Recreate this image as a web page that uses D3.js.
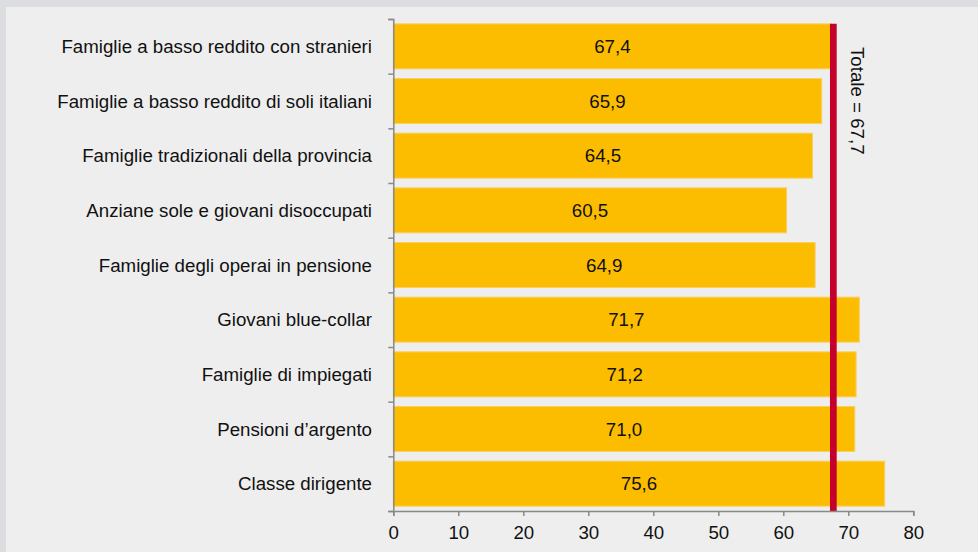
<!DOCTYPE html>
<html>
<head>
<meta charset="utf-8">
<script src="https://cdn.jsdelivr.net/npm/d3@7"></script>
<style>
  html, body { margin: 0; padding: 0; background: #dcdde0; }
  svg { display: block; font-family: "Liberation Sans", Arial, sans-serif; }
</style>
</head>
<body>
<div id="chart"></div>
<script>
var categories = [
    "Famiglie a basso reddito con stranieri",
    "Famiglie a basso reddito di soli italiani",
    "Famiglie tradizionali della provincia",
    "Anziane sole e giovani disoccupati",
    "Famiglie degli operai in pensione",
    "Giovani blue-collar",
    "Famiglie di impiegati",
    "Pensioni d\u2019argento",
    "Classe dirigente"
];
var values = [67.4, 65.9, 64.5, 60.5, 64.9, 71.7, 71.2, 71.0, 75.6];
var totale = 67.7;
var xTicks = [0, 10, 20, 30, 40, 50, 60, 70, 80];

var W = 978, H = 552;
var fs = "18.7px";
var svg = d3.select("#chart")
    .append("svg")
    .attr("width", W)
    .attr("height", H);

// grey frame + panel
svg.append("rect").attr("width", W).attr("height", H).attr("fill", "#dcdde0");
svg.append("rect").attr("x", 6).attr("y", 7).attr("width", W - 6).attr("height", H - 7).attr("fill", "#eeeeee");

var x = d3.scaleLinear()
    .domain([0, 80])
    .range([393.3, 913.3]);

var y = d3.scaleBand()
    .domain(categories)
    .range([19, 511])
    .paddingInner(0.177)
    .paddingOuter(0.0885);

var yLin = d3.scaleLinear()
    .domain([0, categories.length])
    .range([19, 511]);

var fmt = function (v) { return v.toFixed(1).replace(".", ","); };

// bars
svg.selectAll("rect.bar")
    .data(values)
    .enter()
    .append("rect")
    .attr("class", "bar")
    .attr("x", x(0))
    .attr("y", function (d, i) { return y(categories[i]); })
    .attr("width", function (d) { return x(d) - x(0); })
    .attr("height", y.bandwidth())
    .attr("fill", "#fcbd00")
    .attr("stroke", "#f9cf63")
    .attr("stroke-width", 1);

// value labels
svg.selectAll("text.val")
    .data(values)
    .enter()
    .append("text")
    .attr("class", "val")
    .attr("x", function (d) { return (x(0) + x(d)) / 2; })
    .attr("y", function (d, i) { return y(categories[i]) + y.bandwidth() / 2; })
    .attr("dy", "0.35em")
    .attr("text-anchor", "middle")
    .attr("font-size", fs)
    .attr("fill", "#111")
    .text(fmt);

// category labels
svg.selectAll("text.cat")
    .data(categories)
    .enter()
    .append("text")
    .attr("class", "cat")
    .attr("x", 372)
    .attr("y", function (d) { return y(d) + y.bandwidth() / 2; })
    .attr("dy", "0.35em")
    .attr("text-anchor", "end")
    .attr("font-size", fs)
    .attr("fill", "#111")
    .text(function (d) { return d; });

// totale line
svg.append("line")
    .attr("x1", x(totale))
    .attr("x2", x(totale))
    .attr("y1", y(categories[0]))
    .attr("y2", 511)
    .attr("stroke", "#c4002b")
    .attr("stroke-width", 6.7);

svg.append("text")
    .attr("transform", "translate(" + (x(totale) + 24) + "," + 47 + ") rotate(90)")
    .attr("dy", "0.35em")
    .attr("font-size", fs)
    .attr("fill", "#111")
    .text("Totale = " + fmt(totale));

// axes
var xAxis = d3.axisBottom(x)
    .tickValues(xTicks)
    .tickFormat(d3.format("d"))
    .tickSize(5)
    .tickSizeOuter(5)
    .tickPadding(10);

var yAxis = d3.axisLeft(yLin)
    .tickValues(d3.range(categories.length + 1))
    .tickFormat("")
    .tickSize(5)
    .tickSizeOuter(5);

var xg = svg.append("g")
    .attr("transform", "translate(0,511)")
    .call(xAxis);
xg.selectAll("text").attr("font-size", fs).attr("fill", "#111").attr("font-family", null);

var yg = svg.append("g")
    .attr("transform", "translate(" + x(0) + ",0)")
    .call(yAxis);

svg.selectAll(".domain, .tick line")
    .attr("stroke", "#898989")
    .attr("stroke-width", 1.5);
</script>
</body>
</html>
